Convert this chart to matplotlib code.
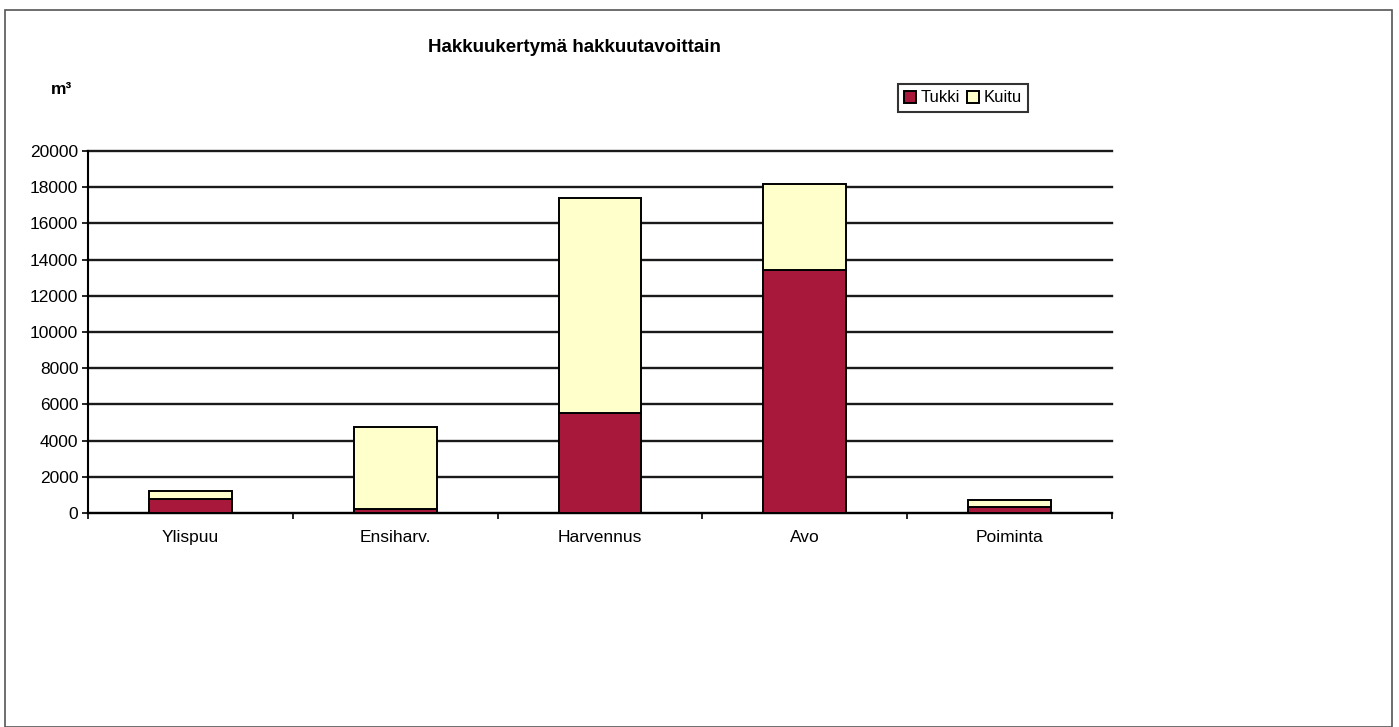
import matplotlib
matplotlib.use("Agg")
import matplotlib.pyplot as plt
from matplotlib.patches import Rectangle
import numpy as np

categories = ["Ylispuu", "Ensiharv.", "Harvennus", "Avo", "Poiminta"]
tukki = [800, 200, 5500, 13400, 320]
kuitu = [400, 4550, 11900, 4800, 400]
yticks = [0, 2000, 4000, 6000, 8000, 10000, 12000, 14000, 16000, 18000, 20000]

plt.rcParams['font.family'] = ['Liberation Sans', 'DejaVu Sans']

fig = plt.figure(figsize=(13.99, 7.27), dpi=100)
fig.patches.append(Rectangle((5/1399, 0.0), 1387/1399, 1 - 10/727, transform=fig.transFigure,
                             fill=False, edgecolor='#555555', linewidth=1.2))

ax = fig.add_axes([88/1399, 1 - 513/727, 1024/1399, 362/727])
x = np.arange(len(categories))
w = 0.405
red = '#A8183A'
yel = '#FFFFCC'
ax.bar(x, tukki, w, color=red, edgecolor='black', linewidth=1.4, label='Tukki', zorder=3)
ax.bar(x, kuitu, w, bottom=tukki, color=yel, edgecolor='black', linewidth=1.4, label='Kuitu', zorder=3)

ax.set_xlim(-0.5, len(categories) - 0.5)
ax.set_ylim(0, 20000)
ax.set_yticks(yticks)
ax.set_yticklabels([str(v) for v in yticks], fontsize=12.5)
ax.yaxis.grid(True, color='#1a1a1a', linewidth=1.7, zorder=0)
for gl in ax.yaxis.get_gridlines():
    gl.set_clip_on(False)
ax.set_xticks(x)
ax.set_xticklabels(categories, fontsize=12.5)
ax.set_xticks(np.arange(-0.5, len(categories)), minor=True)
ax.tick_params(axis='x', which='major', length=0, pad=12)
ax.tick_params(axis='x', which='minor', length=4, width=1.2)
ax.tick_params(axis='y', length=4, width=1.2, pad=3)
for s in ['top', 'right']:
    ax.spines[s].set_visible(False)
ax.spines['left'].set_linewidth(1.5)
ax.spines['bottom'].set_linewidth(1.5)

fig.text(574/1399, 1 - 48/727, "Hakkuukertymä hakkuutavoittain", ha='center', va='center',
         fontsize=13.5, fontweight='bold')
fig.text(62/1399, 1 - 90/727, "m³", ha='center', va='center', fontsize=12.5, fontweight='bold')

leg = ax.legend(loc='center', bbox_to_anchor=(963/1399, 1 - 98/727), bbox_transform=fig.transFigure,
                ncol=2, fontsize=12, frameon=True, fancybox=False, edgecolor='black',
                handlelength=0.7, handleheight=0.7, handletextpad=0.3, columnspacing=0.4,
                borderpad=0.4)
leg.get_frame().set_linewidth(1.5)

fig.savefig("out.png", dpi=100)
